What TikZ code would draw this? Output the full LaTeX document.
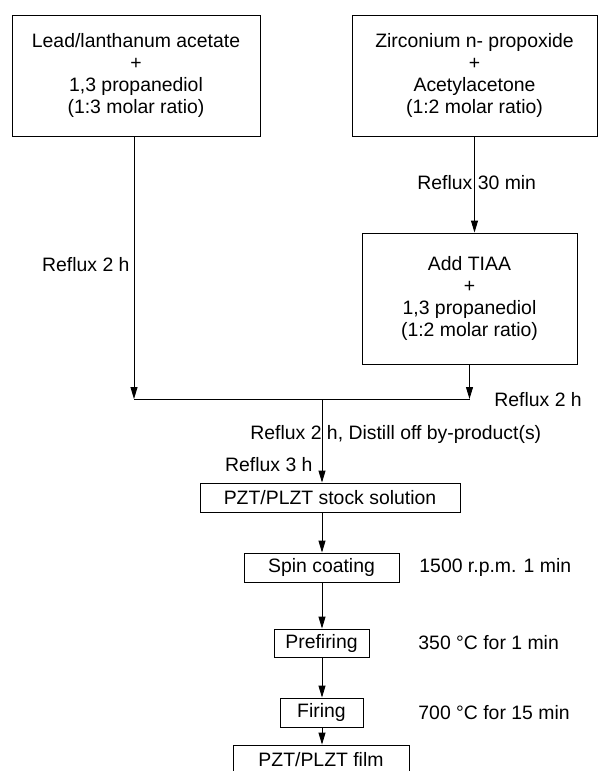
\documentclass[tikz,border=0pt]{standalone}
\usepackage{fontspec}
\setmainfont{Liberation Sans}
\usetikzlibrary{arrows.meta,positioning}

\begin{document}
\begin{tikzpicture}[x=1pt,y=-1pt,line width=0.9pt,
  every node/.style={font=\fontsize{19.4}{21.7}\selectfont,inner sep=0pt},
  stepbox/.style={draw,align=center},
  flow/.style={-{Triangle[length=12pt,width=7pt]}}]
  \clip (0,0) rectangle (598,771);
  % starting solutions
  \node[stepbox,minimum width=248,minimum height=121] (lead) at (136,75.5)
    {Lead/lanthanum acetate\\+\\1,3 propanediol\\(1:3 molar ratio)};
  \node[stepbox,minimum width=245,minimum height=121] (zr) at (474.5,75.5)
    {Zirconium n- propoxide\\+\\Acetylacetone\\(1:2 molar ratio)};
  \node[stepbox,minimum width=215,minimum height=131] (tiaa) at (469.5,298.5)
    {Add TIAA\\+\\1,3 propanediol\\(1:2 molar ratio)};
  % process steps
  \node[stepbox,minimum width=260,minimum height=29] (stock) at (330,497.5) {PZT/PLZT stock solution};
  \node[stepbox,minimum width=155,minimum height=29] (spin) at (321.5,567.5) {Spin coating};
  \node[stepbox,minimum width=95,minimum height=28] (prefire) at (321.5,643) {Prefiring};
  \node[stepbox,minimum width=83,minimum height=29] (fire) at (321.5,712.5) {Firing};
  \node[stepbox,minimum width=176,minimum height=29] (film) at (321,759.5) {PZT/PLZT film};
  % conditions
  \node[anchor=east] (rlead) at (130,265) {Reflux 2 h};
  \node[anchor=west] (rzr) at (417,183) {Reflux 30 min};
  \node[anchor=west] (rtiaa) at (494,400) {Reflux 2 h};
  \node[anchor=west] (rmix) at (250,434) {Reflux 2 h, Distill off by-product(s)};
  \node[anchor=east] (rstock) at (313,465) {Reflux 3 h};
  \node[anchor=west] (cspin) at (419,567.5) {1500 r.p.m. 1 min};
  \node[anchor=west] (cpre) at (418,643) {350 °C for 1 min};
  \node[anchor=west] (cfire) at (418,712.5) {700 °C for 15 min};
  % joining line
  \coordinate (jl) at (134,399);
  \coordinate (jr) at (tiaa.south |- jl);
  \coordinate (jm) at (322,399);
  \draw[flow] (lead.south -| jl) -- (jl);
  \draw[flow] (zr.south) -- (zr.south |- tiaa.north);
  \draw[flow] (tiaa.south) -- (jr);
  \draw (jl) -- (jr);
  \draw[flow] (jm) -- (jm |- stock.north);
  \draw[flow] (stock.south -| jm) -- (jm |- spin.north);
  \draw[flow] (spin.south -| jm) -- (jm |- prefire.north);
  \draw[flow] (prefire.south -| jm) -- (jm |- fire.north);
  \draw[flow] (fire.south -| jm) -- (jm |- film.north);
\end{tikzpicture}
\end{document}
